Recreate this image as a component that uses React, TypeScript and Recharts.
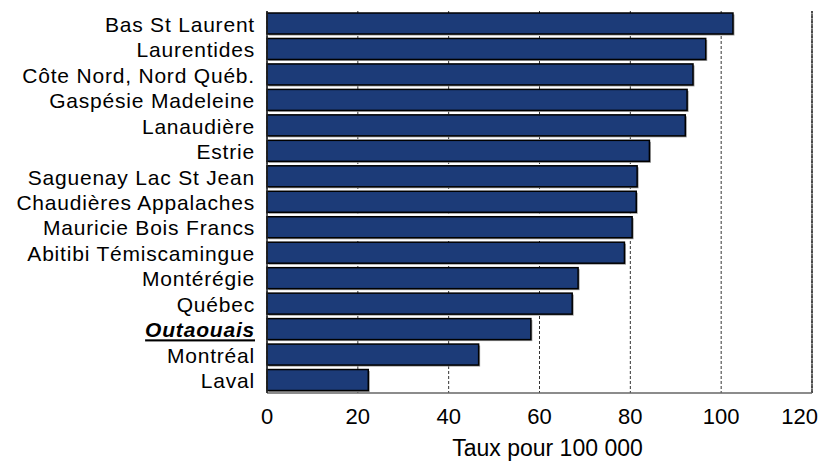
import { BarChart, Bar, XAxis, YAxis, CartesianGrid, ReferenceLine } from 'recharts';

const regions = [
  'Bas St Laurent',
  'Laurentides',
  'Côte Nord, Nord Québ.',
  'Gaspésie Madeleine',
  'Lanaudière',
  'Estrie',
  'Saguenay Lac St Jean',
  'Chaudières Appalaches',
  'Mauricie Bois Francs',
  'Abitibi Témiscamingue',
  'Montérégie',
  'Québec',
  'Outaouais',
  'Montréal',
  'Laval',
];

const taux = [102.6, 96.6, 93.8, 92.5, 92.1, 84.2, 81.5, 81.3, 80.4, 78.7, 68.5, 67.2, 58.1, 46.6, 22.3];

const xTicks = [0, 20, 40, 60, 80, 100, 120];

const data = regions.map((name, i) => ({ name, value: taux[i] }));

const FONT = 'Liberation Sans, Arial, sans-serif';

const RegionTick = (props: any) => {
  const { x, y, payload } = props;
  const highlight = payload.value === 'Outaouais';
  return (
    <text
      x={x - 4}
      y={y}
      dy={8}
      textAnchor="end"
      fontFamily={FONT}
      fontSize={21}
      letterSpacing={0.8}
      fontWeight={highlight ? 'bold' : 'normal'}
      fontStyle={highlight ? 'italic' : 'normal'}
      textDecoration={highlight ? 'underline' : 'none'}
      fill="#000"
    >
      {payload.value}
    </text>
  );
};

// last tick label is pulled inside the frame, like the original
const ValueTick = (props: any) => {
  const { x, y, payload } = props;
  const last = payload.value === xTicks[xTicks.length - 1];
  return (
    <text
      x={last ? 818 : x}
      y={y}
      dy={16}
      textAnchor={last ? 'end' : 'middle'}
      fontFamily={FONT}
      fontSize={22}
      fill="#000"
    >
      {payload.value}
    </text>
  );
};

// bar with a faint drop shadow
const ShadowBar = (props: any) => {
  const { x, y, width, height } = props;
  if (!width || width <= 0) return null;
  return (
    <g>
      <rect x={x + 1.5} y={y + 1.5} width={width} height={height} fill="#9a9a9a" />
      <rect x={x} y={y} width={width} height={height} fill="#1c3b78" stroke="#000" strokeWidth={1.5} />
    </g>
  );
};

export default function App() {
  return (
    <div style={{ position: 'absolute', left: 0, top: 0, width: 819, height: 462, background: '#fff' }}>
      <BarChart
        width={819}
        height={462}
        data={data}
        layout="vertical"
        margin={{ top: 11, right: 7, bottom: 0, left: 0 }}
        barSize={21}
      >
        <CartesianGrid horizontal={false} stroke="#333" strokeDasharray="3 2" />
        <XAxis
          type="number"
          domain={[0, 120]}
          ticks={xTicks}
          height={69}
          tickLine={false}
          axisLine={{ stroke: '#666', strokeWidth: 1.5 }}
          tick={<ValueTick />}
          tickMargin={9}
          label={{
            value: 'Taux pour 100 000',
            position: 'insideBottom',
            offset: 6,
            dx: 8,
            style: { fill: '#000', fontSize: 23, fontFamily: FONT },
          }}
        />
        <XAxis xAxisId="top" orientation="top" type="number" domain={[0, 120]} height={0} tick={false} tickLine={false} axisLine={{ stroke: '#111', strokeWidth: 1.5 }} />
        <YAxis
          type="category"
          dataKey="name"
          width={267}
          tickLine={false}
          interval={0}
          axisLine={{ stroke: '#222', strokeWidth: 1.5 }}
          tick={<RegionTick />}
        />
        <ReferenceLine x={120} stroke="#333" strokeWidth={1.5} strokeDasharray="4 1" />
        <Bar dataKey="value" fill="#1c3b78" shape={<ShadowBar />} isAnimationActive={false} />
      </BarChart>
    </div>
  );
}
